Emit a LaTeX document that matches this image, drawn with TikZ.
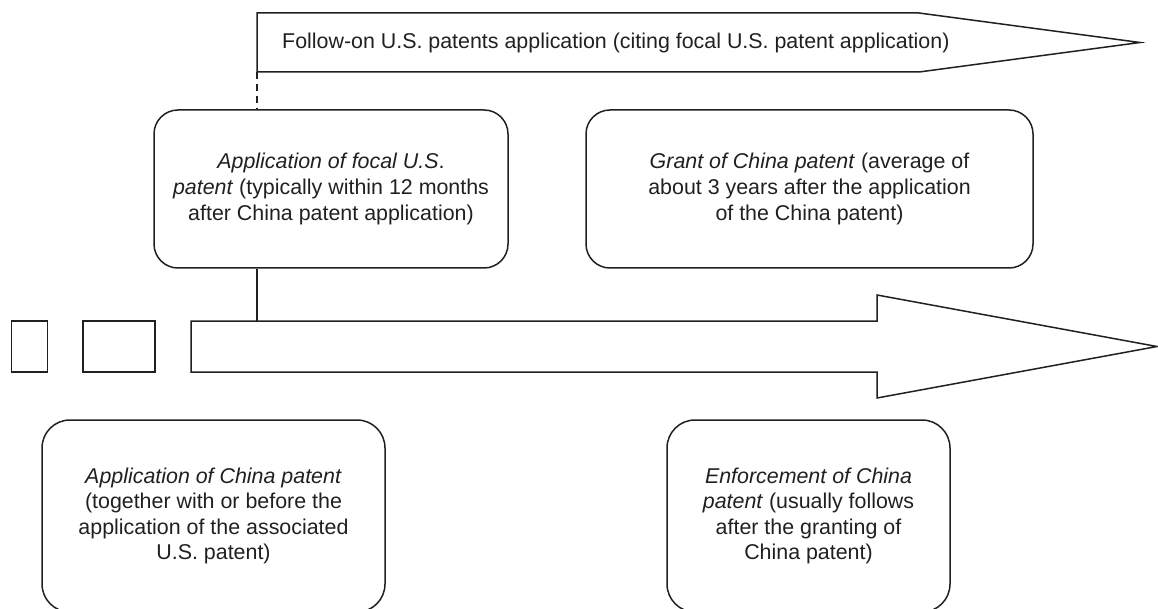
\documentclass[tikz,border=0pt]{standalone}
\usepackage{fontspec}
\setmainfont{Liberation Sans}
\definecolor{ink}{HTML}{231F20}
\tikzset{
  shape line/.style={draw=ink, line width=1.5pt, line join=miter},
  labelfont/.style={text=ink, font=\fontsize{21.4}{25.6}\selectfont},
  roundbox/.style={shape line, rounded corners=24pt, align=center, inner sep=0pt, labelfont},
  bigbox/.style={roundbox, rounded corners=28pt},
  plainbox/.style={shape line, inner sep=0pt},
}
\begin{document}
\begin{tikzpicture}[x=1pt, y=-1pt]
\clip (0,0) rectangle (1158,609);
\useasboundingbox (0,0) rectangle (1158,609);
% top arrow
\draw[shape line] (257,13) -- (919,13) -- (1140,42.5) -- (919,72) -- (257,72) -- cycle;
\coordinate (ta) at (257,72);
\node[anchor=west, inner sep=0pt, labelfont] (tatext) at (282,42.5) {Follow-on U.S. patents application (citing focal U.S. patent application)};
% big arrow
\draw[shape line] (191,321) -- (877,321) -- (877,295) -- (1157,346.5) -- (877,398) -- (877,372) -- (191,372) -- cycle;
\coordinate (ba) at (257,321);
% small rectangles
\node[plainbox, minimum width=36pt, minimum height=51pt] (r1) at (29.5,346.5) {};
\node[plainbox, minimum width=72pt, minimum height=51pt] (r2) at (119,346.5) {};
% boxes
\node[roundbox, minimum width=354pt, minimum height=158pt] (b1) at (331,189) {\textit{Application of focal U.S}.\\\textit{patent} (typically within 12 months\\after China patent application)};
\node[roundbox, minimum width=447pt, minimum height=158pt] (b2) at (809.5,189) {\textit{Grant of China patent} (average of\\about 3 years after the application\\of the China patent)};
\node[bigbox, minimum width=343pt, minimum height=192pt] (b3) at (213.5,516) {\textit{Application of China patent}\\(together with or before the\\application of the associated\\U.S. patent)};
\node[bigbox, minimum width=283pt, minimum height=192pt] (b4) at (808.5,516) {\textit{Enforcement of China}\\\textit{patent} (usually follows\\after the granting of\\China patent)};
% connectors
\draw[draw=ink, line width=1.5pt, dash pattern=on 7pt off 5pt] (ta) -- (b1.north -| ta);
\draw[draw=ink, line width=1.5pt] (b1.south -| ba) -- (ba);
\end{tikzpicture}
\end{document}
